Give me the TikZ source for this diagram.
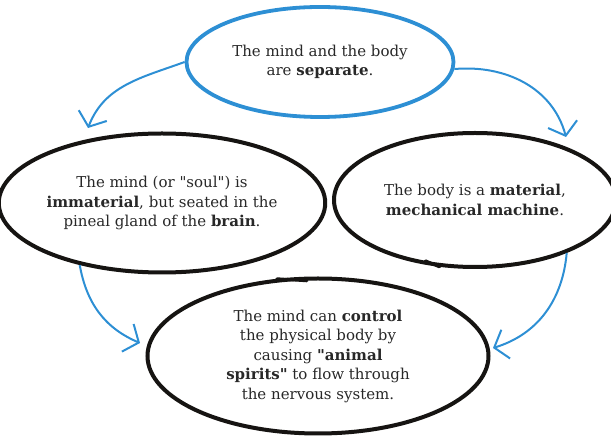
\documentclass[tikz,border=0pt]{standalone}
\usepackage{fontspec}
\setmainfont{DejaVu Serif}[Ligatures=TeXOff]
\usetikzlibrary{shapes.geometric,arrows.meta}
\definecolor{skyblue}{RGB}{45,143,212}
\definecolor{inkblack}{RGB}{22,20,18}
\definecolor{printgrey}{RGB}{40,40,40}
\tikzset{
  bubble/.style={ellipse, draw=inkblack, line width=4pt, inner sep=0pt, align=center,
     font=\fontsize{15}{19.5}\selectfont, text=printgrey},
  bluebubble/.style={bubble, draw=skyblue, line width=3.8pt},
  penstroke/.style={draw=inkblack, line width=3pt, line cap=round},
  flow/.style={draw=skyblue, line width=2pt,
     -{Straight Barb[length=12pt,width=30pt,line width=2pt]}}
}
\begin{document}
\begin{tikzpicture}[x=1pt,y=1pt]
\useasboundingbox (0,0) rectangle (611,439);
\node[bluebubble, minimum width=267pt, minimum height=110pt] (top) at (320,377)
  {The mind and the body\\are \textbf{separate}.};
\node[bubble, minimum width=301pt, minimum height=139pt] (left) at (162,236)
  {The mind (or "soul") is\\\textbf{immaterial}, but seated in the\\pineal gland of the \textbf{brain}.};
\node[bubble, minimum width=282pt, minimum height=134pt] (right) at (475,239)
  {The body is a \textbf{material},\\\textbf{mechanical machine}.};
\node[bubble, minimum width=341pt, minimum height=155pt] (bottom) at (318,83)
  {The mind can \textbf{control}\\the physical body by\\causing \textbf{"animal}\\\textbf{spirits"} to flow through\\the nervous system.};
% small overlapping pen ends of the hand-drawn outlines
\draw[penstroke] (right.-118) -- ++(-14,6);
\draw[penstroke] (bottom.118) -- ++(30,-2);
\coordinate (tipL) at (88,311);
\coordinate (tipR) at (566,302);
\coordinate (tipBL) at (140,96);
\coordinate (tipBR) at (493,91);
\draw[flow] (top.west) to[out=200, in=69] (tipL);
\draw[flow] (top.-3) to[out=5, in=105] (tipR);
\draw[flow] (left.217) to[out=-80, in=157] (tipBL);
\draw[flow] (right.-30) to[out=-95, in=17] (tipBR);
\end{tikzpicture}
\end{document}
